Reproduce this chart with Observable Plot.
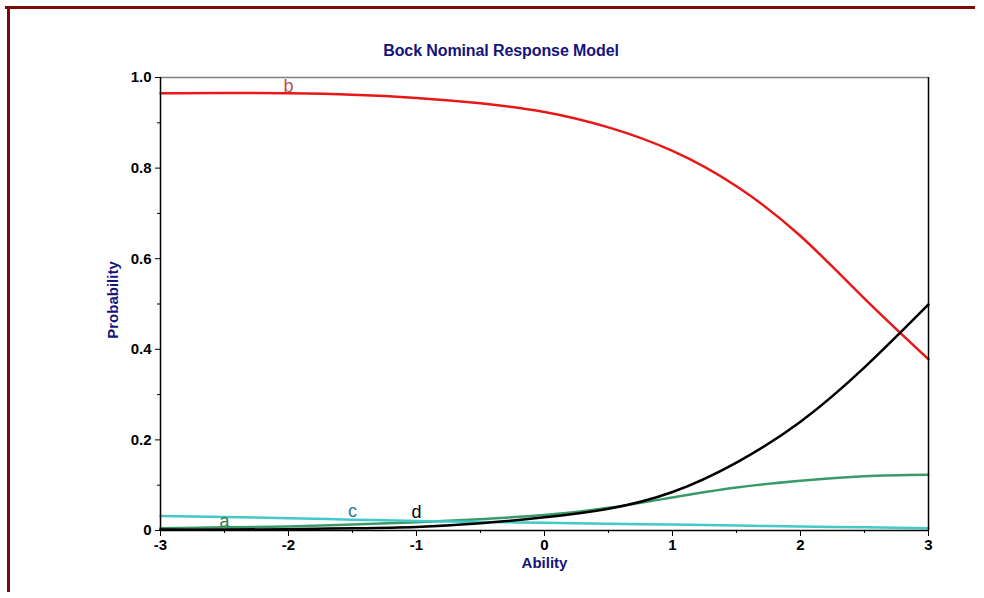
<!DOCTYPE html>
<html>
<head>
<meta charset="utf-8">
<script src="https://cdn.jsdelivr.net/npm/d3@7"></script>
<script src="https://cdn.jsdelivr.net/npm/@observablehq/plot@0.6"></script>
<style>
  html, body { margin: 0; padding: 0; background: #fff; }
  #wrap { position: relative; width: 984px; height: 598px; overflow: hidden; }
  #top { position: absolute; left: 5px; top: 6px; width: 970px; height: 3px; background: #7a0a0a; }
  #left { position: absolute; left: 7px; top: 6px; width: 3px; height: 586px; background: #7a0a0a; }
  #title { position: absolute; left: 0; width: 1002px; top: 42px; text-align: center;
    font: bold 16px "Liberation Sans", Arial, sans-serif; color: #14147a; letter-spacing: -0.1px; }
  #chart { position: absolute; left: 0; top: 0; }
</style>
</head>
<body>
<div id="wrap">
  <div id="chart"></div>
  <div id="top"></div>
  <div id="left"></div>
  <div id="title">Bock Nominal Response Model</div>
</div>
<script>
const ability = [-3, -2.5, -2, -1.5, -1, -0.5, 0, 0.5, 1, 1.5, 2, 2.5, 3];
const probA = [0.005, 0.007, 0.009, 0.013, 0.018, 0.025, 0.034, 0.050, 0.073, 0.095, 0.110, 0.120, 0.123];
const probB = [0.965, 0.966, 0.965, 0.962, 0.955, 0.943, 0.924, 0.890, 0.838, 0.760, 0.650, 0.512, 0.378];
const probC = [0.032, 0.030, 0.027, 0.024, 0.021, 0.019, 0.017, 0.015, 0.013, 0.011, 0.009, 0.007, 0.005];
const probD = [0.002, 0.002, 0.003, 0.005, 0.008, 0.016, 0.029, 0.048, 0.085, 0.150, 0.240, 0.360, 0.499];

const seriesNames = ["a", "b", "c", "d"];
const seriesColors = ["#3a9a6a", "#e81818", "#45c8c8", "#000000"];
const labelColors = ["#3b7a57", "#c04a4a", "#2a7a88", "#000000"];
const labelX = [-2.5, -2, -1.5, -1];
const labelY = [0.02, 0.98, 0.042, 0.04];

const xMajor = [-3, -2, -1, 0, 1, 2, 3];
const xTickLabels = ["-3", "-2", "-1", "0", "1", "2", "3"];
const xMinor = [-2.5, -1.5, -0.5, 0.5, 1.5, 2.5];
const yMajor = [0, 0.2, 0.4, 0.6, 0.8, 1.0];
const yTickLabels = ["0", "0.2", "0.4", "0.6", "0.8", "1.0"];
const yMinor = [0.1, 0.3, 0.5, 0.7, 0.9];

const allProbs = [probA, probB, probC, probD];
const rows = [];
seriesNames.forEach((s, i) => ability.forEach((x, j) => rows.push({series: s, x, p: allProbs[i][j]})));
const labels = seriesNames.map((s, i) => ({series: s, x: labelX[i], p: labelY[i], color: labelColors[i]}));

const font = '"Liberation Sans", Arial, sans-serif';

const chart = Plot.plot({
  width: 984,
  height: 598,
  marginLeft: 160,
  marginRight: 56,
  marginTop: 77,
  marginBottom: 68,
  style: {fontFamily: font, background: "transparent"},
  x: {domain: [-3, 3]},
  y: {domain: [0, 1]},
  color: {domain: seriesNames, range: seriesColors},
  marks: [
    Plot.ruleY([1], {stroke: "#808080", strokeWidth: 1.5}),
    Plot.line(rows, {x: "x", y: "p", z: "series", stroke: "series", strokeWidth: 2.5, curve: "natural"}),
    Plot.ruleX([-3, 3], {stroke: "#000", strokeWidth: 1.5}),
    Plot.ruleY([0], {stroke: "#000", strokeWidth: 1.5}),
    Plot.axisX(xMajor, {tickSize: 6, tickPadding: 3, fontSize: 15, fontWeight: "bold", fill: "#000", label: null,
      tickFormat: d => xTickLabels[xMajor.indexOf(d)]}),
    Plot.axisX(xMinor, {tickSize: 3, text: null, label: null}),
    Plot.axisY(yMajor, {tickSize: 5, tickPadding: 4, fontSize: 15, fontWeight: "bold", fill: "#000", label: null,
      tickFormat: d => yTickLabels[yMajor.indexOf(d)]}),
    Plot.axisY(yMinor, {tickSize: 3, text: null, label: null}),
    Plot.text(labels, {x: "x", y: "p", text: "series", fill: "color", fontSize: 18, fontWeight: 500, fontFamily: font}),
    Plot.text(["Ability"], {frameAnchor: "bottom", dy: 37, fontSize: 15, fontWeight: "bold", fill: "#14147a"}),
    Plot.text(["Probability"], {frameAnchor: "left", textAnchor: "middle", dx: -47, dy: -4, rotate: -90, fontSize: 15, fontWeight: "bold", fill: "#14147a"})
  ]
});
document.getElementById("chart").appendChild(chart);
</script>
</body>
</html>
